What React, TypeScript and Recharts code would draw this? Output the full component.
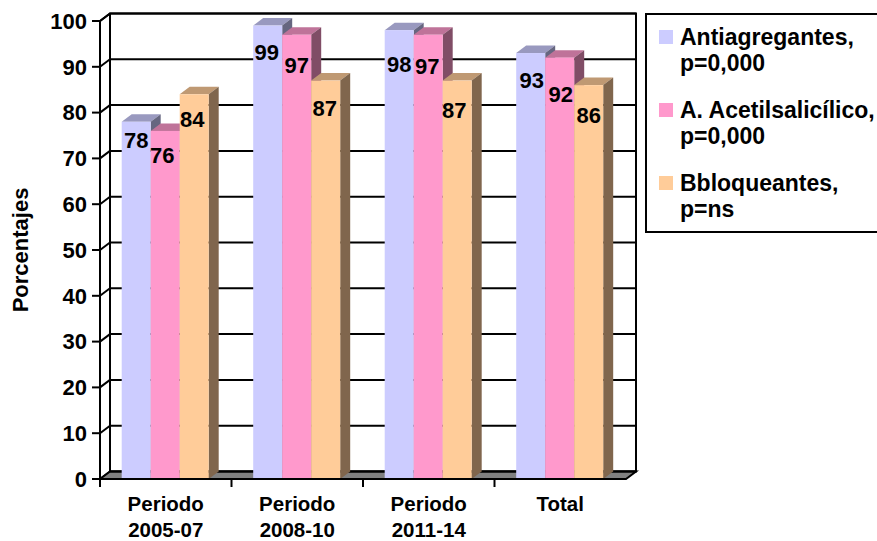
import { BarChart, Bar, XAxis, YAxis, CartesianGrid, Legend, LabelList, ReferenceArea } from 'recharts';

const categorias = ['Periodo 2005-07', 'Periodo 2008-10', 'Periodo 2011-14', 'Total'];
const antiagregantes = [78, 99, 98, 93];
const acetilsalicilico = [76, 97, 97, 92];
const bloqueantes = [84, 87, 87, 86];
const ticksY = [0, 10, 20, 30, 40, 50, 60, 70, 80, 90, 100];

const data = categorias.map((nombre, i) => ({
  nombre,
  antiagregantes: antiagregantes[i],
  acetilsalicilico: acetilsalicilico[i],
  bloqueantes: bloqueantes[i],
}));

const W = 877;
const H = 541;
const M = { top: 21, right: 251, bottom: 0, left: 0 };
const ANCHO_Y = 100;
const ALTO_X = 62;
const DX = 10; // profundidad del efecto 3D
const DY = 7.5;
const FONT = '"Liberation Sans", Arial, sans-serif';
const BANDA = (W - ANCHO_Y - M.right) / categorias.length;

// Barra con cara superior y lateral
function Barra3D({ x, y, width, height, fill, top, side }: any) {
  return (
    <g>
      <polygon points={`${x},${y} ${x + DX},${y - DY} ${x + width + DX},${y - DY} ${x + width},${y}`} fill={top} />
      <polygon
        points={`${x + width},${y} ${x + width + DX},${y - DY} ${x + width + DX},${y + height - DY} ${x + width},${y + height}`}
        fill={side}
      />
      <rect x={x} y={y} width={width} height={height} fill={fill} />
    </g>
  );
}

// Pared del fondo y suelo gris
function Pared({ x, y, width, height }: any) {
  const fondo = y + height;
  return (
    <g>
      <polygon
        points={`${x},${fondo} ${x + DX},${fondo - DY} ${x + width + DX},${fondo - DY} ${x + width},${fondo}`}
        fill="#808080"
        stroke="#000"
        strokeWidth={2}
      />
      <rect x={x + DX} y={y - DY} width={width} height={height} fill="none" stroke="#000" strokeWidth={2} />
      <line x1={x} y1={y} x2={x + DX} y2={y - DY} stroke="#000" strokeWidth={2} />
    </g>
  );
}

// Línea de rejilla en el fondo con su diagonal hasta el eje
function LineaGrid({ x1, x2, y1 }: any) {
  return (
    <g>
      <line x1={x1} y1={y1} x2={x1 + DX} y2={y1 - DY} stroke="#000" strokeWidth={2} />
      <line x1={x1 + DX} y1={y1 - DY} x2={x2 + DX} y2={y1 - DY} stroke="#000" strokeWidth={2} />
    </g>
  );
}

// Las marcas del eje X caen entre categorías, no en su centro
function TickCategoria({ x, y, payload }: any) {
  const partes = String(payload.value).split(' ');
  const izq = x - BANDA / 2;
  return (
    <g>
      <line x1={izq} y1={y - 8} x2={izq} y2={y} stroke="#000" strokeWidth={2} />
      <text x={x} y={y + 24} textAnchor="middle" fontFamily={FONT} fontWeight="bold" fontSize={20.5} fill="#000">
        {partes.map((p, i) => (
          <tspan key={p} x={x} dy={i === 0 ? 0 : 26}>
            {p}
          </tspan>
        ))}
      </text>
    </g>
  );
}

function Leyenda({ payload }: any) {
  return (
    <div
      style={{
        position: 'absolute',
        left: 645,
        top: 13,
        width: 260,
        height: 220,
        boxSizing: 'border-box',
        border: '2px solid #000',
        fontFamily: FONT,
        fontWeight: 'bold',
        fontSize: 23,
        lineHeight: '26px',
        textAlign: 'left',
      }}
    >
      {(payload || []).map((item: any, i: number) => {
        const coma = item.value.indexOf(', ');
        return (
          <div key={item.value} style={{ position: 'absolute', left: 12, top: 9 + i * 73, display: 'flex' }}>
            <span style={{ width: 14, height: 14, marginTop: 6, marginRight: 7, background: item.color }} />
            <span style={{ whiteSpace: 'nowrap' }}>
              {item.value.slice(0, coma + 1)}
              <br />
              {item.value.slice(coma + 2)}
            </span>
          </div>
        );
      })}
    </div>
  );
}

// Desplazamiento de cada etiqueta respecto al techo y al centro de su barra
const bajadaEtiquetas = [
  [18, 26, 34, 27],
  [24, 30, 31, 36],
  [25, 28, 30, 30],
];
const corrimientoEtiquetas = [
  [0, -1, 0, 1],
  [-3, 0, -1, 1],
  [-2, -1, -3, 0],
];

function Etiqueta({ x, y, width, value, index, serie }: any) {
  return (
    <text
      x={x + width / 2 + corrimientoEtiquetas[serie][index]}
      y={y + bajadaEtiquetas[serie][index]}
      dy="0.36em"
      textAnchor="middle"
      fill="#000"
      fontFamily={FONT}
      fontWeight="bold"
      fontSize={22}
    >
      {value}
    </text>
  );
}

const series = [
  { key: 'antiagregantes', name: 'Antiagregantes, p=0,000', fill: '#CCCCFF', top: '#9999BF', side: '#666680' },
  { key: 'acetilsalicilico', name: 'A. Acetilsalicílico, p=0,000', fill: '#FF99CC', top: '#BF7399', side: '#804D66' },
  { key: 'bloqueantes', name: 'Bbloqueantes, p=ns', fill: '#FFCC99', top: '#BF9973', side: '#80664D' },
];

export default function App() {
  return (
    <div style={{ position: 'absolute', left: 0, top: 0, width: W, height: H, overflow: 'hidden', background: '#fff' }}>
      <BarChart width={W} height={H} data={data} margin={M} barCategoryGap="16.5%" barGap={0}>
        <CartesianGrid vertical={false} horizontal={(p: any) => <LineaGrid key={p.key} {...p} />} syncWithTicks />
        <XAxis
          dataKey="nombre"
          tick={<TickCategoria />}
          tickLine={false}
          axisLine={{ stroke: '#000', strokeWidth: 2 }}
          interval={0}
          height={ALTO_X}
        />
        <YAxis
          domain={[0, 100]}
          ticks={ticksY}
          width={ANCHO_Y}
          tickSize={8}
          tickMargin={5}
          tickLine={{ stroke: '#000', strokeWidth: 2 }}
          axisLine={{ stroke: '#000', strokeWidth: 2 }}
          tick={{ fill: '#000', fontFamily: FONT, fontWeight: 'bold', fontSize: 22 }}
          label={{
            value: 'Porcentajes',
            angle: -90,
            position: 'insideLeft',
            offset: 0,
            dx: 20,
            style: { fill: '#000', fontFamily: FONT, fontWeight: 'bold', fontSize: 22, textAnchor: 'middle' },
          }}
        />
        <ReferenceArea y1={0} y2={100} shape={<Pared />} />
        <Legend
          content={<Leyenda />}
          itemSorter={null}
          wrapperStyle={{ left: 0, top: 0, bottom: 'auto', width: 0, height: 0 }}
        />
        {series.map((s, i) => (
          <Bar
            key={s.key}
            dataKey={s.key}
            name={s.name}
            fill={s.fill}
            isAnimationActive={false}
            shape={<Barra3D top={s.top} side={s.side} />}
          >
            <LabelList dataKey={s.key} content={(p: any) => <Etiqueta {...p} serie={i} />} />
          </Bar>
        ))}
      </BarChart>
    </div>
  );
}
